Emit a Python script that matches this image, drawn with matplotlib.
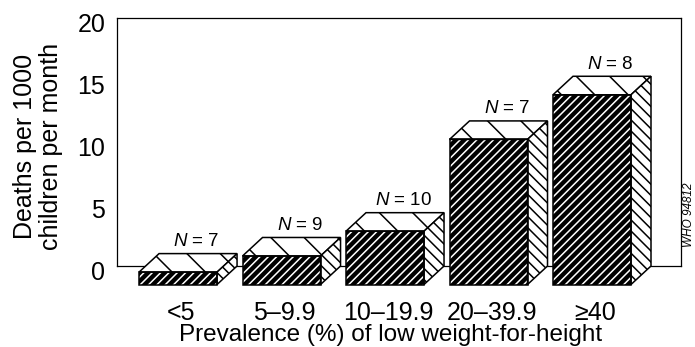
import matplotlib
matplotlib.use("Agg")
import matplotlib.pyplot as plt
from matplotlib.patches import Polygon
from matplotlib import transforms

plt.rcParams['font.family'] = ['Liberation Sans', 'DejaVu Sans']
plt.rcParams['mathtext.fontset'] = 'custom'
plt.rcParams['mathtext.it'] = 'Liberation Sans:italic'
plt.rcParams['mathtext.rm'] = 'Liberation Sans'
plt.rcParams['hatch.linewidth'] = 1.1

# Data
categories = ["<5", "5\u20139.9", "10\u201319.9", "20\u201339.9", "\u226540"]
deaths = [1.0, 2.3, 4.3, 11.7, 15.3]
n_sites = [7, 9, 10, 7, 8]
y_ticks = [0, 5, 10, 15, 20]

W, H = 695, 347
fig = plt.figure(figsize=(W / 100, H / 100), dpi=100)
ax_left, ax_right, ax_top, ax_bottom = 117, 681, 18, 266
ax = fig.add_axes([ax_left / W, (H - ax_bottom) / H,
                   (ax_right - ax_left) / W, (ax_bottom - ax_top) / H])
ax.set_xlim(-0.59, 4.86)
ax.set_ylim(0, 20)
for s in ax.spines.values():
    s.set_linewidth(0.9)
    s.set_color('black')

# pseudo-3D geometry (oblique projection)
px_x = (ax_right - ax_left) / (4.86 + 0.59)
px_y = (ax_bottom - ax_top) / 20
w = 78 / px_x
dx = 20 / px_x
dy = 18.5 / px_y

FS = 18

for i, v in enumerate(deaths):
    x0, x1 = i - w / 2, i + w / 2
    front = [(x0, -dy), (x1, -dy), (x1, v - dy), (x0, v - dy)]
    top = [(x0, v - dy), (x1, v - dy), (x1 + dx, v), (x0 + dx, v)]
    side = [(x1, -dy), (x1 + dx, 0), (x1 + dx, v), (x1, v - dy)]
    # front face: black with fine white diagonal hatching
    ax.add_patch(Polygon(front, closed=True, facecolor='black', edgecolor='white',
                         linewidth=0, hatch='////', clip_on=False, zorder=3))
    ax.add_patch(Polygon(front, closed=True, fill=False, edgecolor='black',
                         linewidth=1.1, clip_on=False, zorder=4))
    # top face: wide back-slash hatching
    ax.add_patch(Polygon(top, closed=True, facecolor='white', edgecolor='black',
                         linewidth=1.1, hatch='\\', clip_on=False, zorder=3))
    # side face: denser back-slash hatching
    ax.add_patch(Polygon(side, closed=True, facecolor='white', edgecolor='black',
                         linewidth=1.1, hatch='\\\\\\', clip_on=False, zorder=3))
    ax.text(i + dx / 2 + 0.08, v + 0.3, r'$N$' + ' = %d' % n_sites[i],
            ha='center', va='bottom', fontsize=13.5, zorder=5)

ax.set_yticks(y_ticks)
ax.set_yticklabels([str(t) for t in y_ticks], fontsize=FS)
ax.tick_params(axis='y', length=0, pad=8.5)
shift = transforms.ScaledTranslation(0, -5 / 100, fig.dpi_scale_trans)
for lab in ax.get_yticklabels():
    lab.set_transform(lab.get_transform() + shift)

ax.set_xticks([i + 0.03 for i in range(len(categories))])
ax.set_xticklabels(categories, fontsize=FS)
ax.tick_params(axis='x', length=0, pad=25)

fig.text(391 / W, 6 / H, "Prevalence (%) of low weight-for-height",
         ha='center', va='baseline', fontsize=17.5)
fig.text(38 / W, (H - 146) / H, "Deaths per 1000\nchildren per month",
         ha='center', va='center', rotation=90, fontsize=FS, linespacing=1.15)
fig.text(689 / W, (H - 215) / H, "WHO 94812", ha='center', va='center',
         rotation=90, fontsize=8.5, style='italic')

fig.savefig("out.png", dpi=100)
